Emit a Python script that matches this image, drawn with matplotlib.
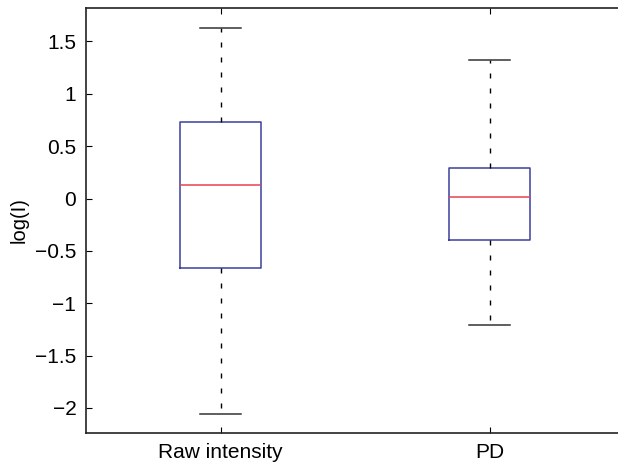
import matplotlib.pyplot as plt

plt.rcParams['font.family'] = ['Liberation Sans', 'DejaVu Sans']

# Box summaries
labels = ["Raw intensity", "PD"]
medians = [0.127, 0.015]
q1 = [-0.663, -0.392]
q3 = [0.729, 0.289]
whisker_low = [-2.057, -1.207]
whisker_high = [1.633, 1.321]

stats = []
for i in range(len(labels)):
    stats.append({
        "label": labels[i],
        "med": medians[i],
        "q1": q1[i],
        "q3": q3[i],
        "whislo": whisker_low[i],
        "whishi": whisker_high[i],
        "fliers": [],
    })

fig = plt.figure(figsize=(6.18, 4.66), dpi=100)
# axes right edge runs slightly past the picture, as in the original
ax = fig.add_axes([86 / 618, 1 - 433 / 466, 538 / 618, 425 / 466])

ax.bxp(stats, positions=[1, 2], widths=0.3, showfliers=False,
       boxprops=dict(color="#3c3f9c", linewidth=1.1),
       medianprops=dict(color="#e8434f", linewidth=1.1),
       whiskerprops=dict(color="black", linestyle=(0, (3.6, 7.2)), linewidth=1.0),
       capprops=dict(color="#333333", linewidth=1.1),
       capwidths=0.15)

ax.set_xlim(0.5, 2.5)
ax.set_ylim(-2.24, 1.82)
ax.set_yticks([-2, -1.5, -1, -0.5, 0, 0.5, 1, 1.5])
ax.set_yticklabels(["\u22122", "\u22121.5", "\u22121", "\u22120.5", "0", "0.5", "1", "1.5"])
ax.set_xticks([1, 2])
ax.set_xticklabels(labels)
ax.set_ylabel("log(I)", fontsize=14.5)
ax.yaxis.set_label_coords(-0.106, 0.5)
ax.tick_params(direction="in", length=4, width=0.8, labelsize=15,
               top=True, right=False, pad=7)
ax.spines["right"].set_visible(False)
for s in ax.spines.values():
    s.set_linewidth(1.2)
    s.set_color("#222222")

fig.savefig("out.png", dpi=100)
